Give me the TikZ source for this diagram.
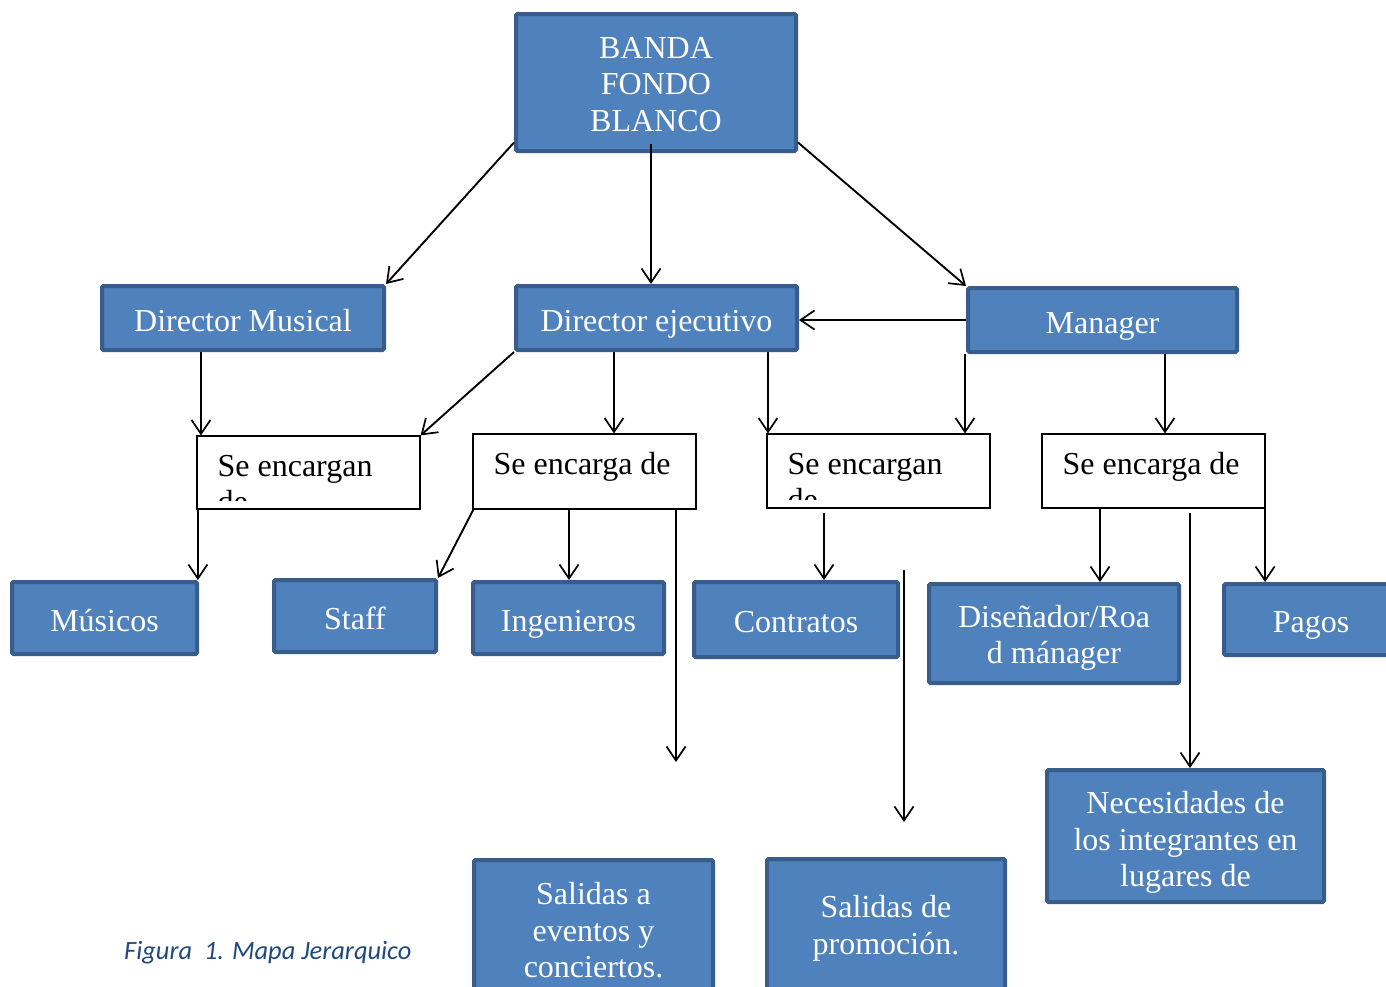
\documentclass[tikz,border=0pt]{standalone}
\usepackage{fontspec}
\setmainfont{Liberation Serif}
\newfontfamily\capfont{Carlito}
\usetikzlibrary{arrows.meta,calc}
\definecolor{boxfill}{HTML}{4F81BD}
\definecolor{boxedge}{HTML}{385D8A}
\definecolor{captxt}{HTML}{1F497D}
\begin{document}
\begin{tikzpicture}[x=1pt,y=-1pt,
  bluebox/.style={rectangle, fill=boxfill, draw=boxedge, line width=4pt, rounded corners=1.5pt, text=white, font=\fontsize{32}{36.5}\selectfont, align=center, inner sep=0pt, execute at begin node={\spaceskip=\fontdimen2\font\xspaceskip=\fontdimen2\font}},
  bb/.style n args={4}{bluebox, minimum width=#1, minimum height=#2, text width=#1-12pt, text height=#3, text depth=#4},
  textbox/.style={rectangle, fill=white, draw=black, line width=1.2pt, inner sep=0pt, minimum width=223pt},
  sublabel/.style={anchor=base west, font=\fontsize{32}{36.5}\selectfont, inner sep=0pt},
  arr/.style={line width=1.9pt, -{Straight Barb[length=14pt,width=19pt,line width=1.7pt]}}
]
\useasboundingbox (0,0) rectangle (1386,986);
\clip (0,0) rectangle (1386,986);

% blue boxes
\node[bb={280pt}{137pt}{0pt}{49pt}] (top) at (656,82.5) {BANDA\\FONDO\\BLANCO};
\node[bb={282pt}{64pt}{26pt}{0pt}] (dm) at (243,318) {Director Musical};
\node[bb={281pt}{64pt}{26pt}{0pt}] (de) at (656.5,318) {Director ejecutivo};
\node[bb={269pt}{64pt}{26pt}{0pt}] (mg) at (1102.5,320) {Manager};
\node[bb={185pt}{72pt}{26pt}{0pt}] (mus) at (104.5,618) {Músicos};
\node[bb={162pt}{72pt}{26pt}{0pt}] (staff) at (355,616) {Staff};
\node[bb={191pt}{72pt}{26pt}{0pt}] (ing) at (568.5,618) {Ingenieros};
\node[bb={204pt}{75pt}{26pt}{0pt}] (con) at (796,619.5) {Contratos};
\node[bb={250pt}{99pt}{0pt}{12.5pt}] (dis) at (1054,633.5) {Diseñador/Roa\\d mánager};
\node[bb={174pt}{71pt}{26pt}{0pt}] (pag) at (1311,619.5) {Pagos};
\node[bb={277pt}{132pt}{0pt}{45pt}] (nec) at (1185.5,836) {Necesidades de\\los integrantes en\\lugares de};
\node[bb={239pt}{138pt}{0pt}{49pt}] (sal1) at (593.5,929) {Salidas a\\eventos y\\conciertos.};
\node[bb={238pt}{136pt}{0pt}{18.5pt}] (sal2) at (886,927) {Salidas de\\promoción.};

% white boxes
\node[textbox, minimum height=73pt] (s1) at (308.5,472.5) {};
\node[textbox, minimum height=75pt] (s2) at (584.5,471.5) {};
\node[textbox, minimum height=74pt] (s3) at (878.5,471) {};
\node[textbox, minimum height=74pt] (s4) at (1153.5,471) {};

\begin{scope}
\clip (s1.north west) rectangle ([yshift=9pt]s1.south east);
\node[sublabel] (s1a) at ([xshift=21pt,yshift=-41pt]s1.north west) {Se encargan};
\node[sublabel] (s1b) at ([xshift=21pt,yshift=-77.5pt]s1.north west) {de};
\end{scope}
\node[sublabel] (s2a) at ([xshift=21pt,yshift=-41pt]s2.north west) {Se encarga de};
\begin{scope}
\clip (s3.north west) rectangle ([yshift=9pt]s3.south east);
\node[sublabel] (s3a) at ([xshift=21pt,yshift=-41pt]s3.north west) {Se encargan};
\node[sublabel] (s3b) at ([xshift=21pt,yshift=-77.5pt]s3.north west) {de};
\end{scope}
\node[sublabel] (s4a) at ([xshift=21pt,yshift=-41pt]s4.north west) {Se encarga de};

% caption
\node[anchor=base west, inner sep=0pt, text=captxt, font=\capfont\itshape\fontsize{26.4}{30}\selectfont] (cap) at (124,959) {Figura\ \ 1. Mapa Jerarquico};

% free coordinates
\coordinate (f1) at (676,762);
\coordinate (f2a) at (904,570);
\coordinate (f2b) at (904,822);

% connectors
\draw[arr] ([yshift=-60pt]top.west) -- (dm.north east);
\draw[arr] ([xshift=-5pt,yshift=9pt]top.south) -- ([xshift=-5pt]top.south |- de.north);
\draw[arr] ([yshift=-60pt]top.east) -- (mg.north west);
\draw[arr] (mg.west) -- (mg.west -| de.east);
\draw[arr] ([xshift=-42pt]dm.south) -- ([xshift=-42pt]dm.south |- s1.north);
\draw[arr] (de.south west) -- (s1.north east);
\draw[arr] ([xshift=-42.5pt]de.south) -- ([xshift=-42.5pt]de.south |- s2.north);
\draw[arr] ([xshift=111.5pt]de.south) -- ([xshift=111.5pt]de.south |- s3.north);
\draw[arr] ([xshift=-1pt]mg.south west) -- ([xshift=-1pt]mg.south west |- s4.north);
\draw[arr] ([xshift=62.5pt]mg.south) -- ([xshift=62.5pt]mg.south |- s4.north);
\draw[arr] ([xshift=1.5pt]s1.south west) -- ([xshift=1.5pt]s1.south west |- mus.north);
\draw[arr] ([xshift=1pt]s2.south west) -- (staff.north east);
\draw[arr] ([xshift=-15.5pt]s2.south) -- ([xshift=-15.5pt]s2.south |- ing.north);
\draw[arr] ([xshift=91.5pt]s2.south) -- (s2.south -| f1) -- (f1);
\draw[arr] ([xshift=-54.5pt,yshift=-4pt]s3.south) -- ([xshift=-54.5pt]s3.south |- con.north);
\draw[arr] (f2a) -- (f2b);
\draw[arr] ([xshift=-53.5pt]s4.south) -- ([xshift=-53.5pt]s4.south |- dis.north);
\draw[arr] ([xshift=36.5pt,yshift=-4pt]s4.south) -- ([xshift=36.5pt]s4.south |- nec.north);
\draw[arr] ([xshift=-0.5pt]s4.south east) -- ([xshift=-0.5pt]s4.south east |- pag.north);
\end{tikzpicture}
\end{document}
